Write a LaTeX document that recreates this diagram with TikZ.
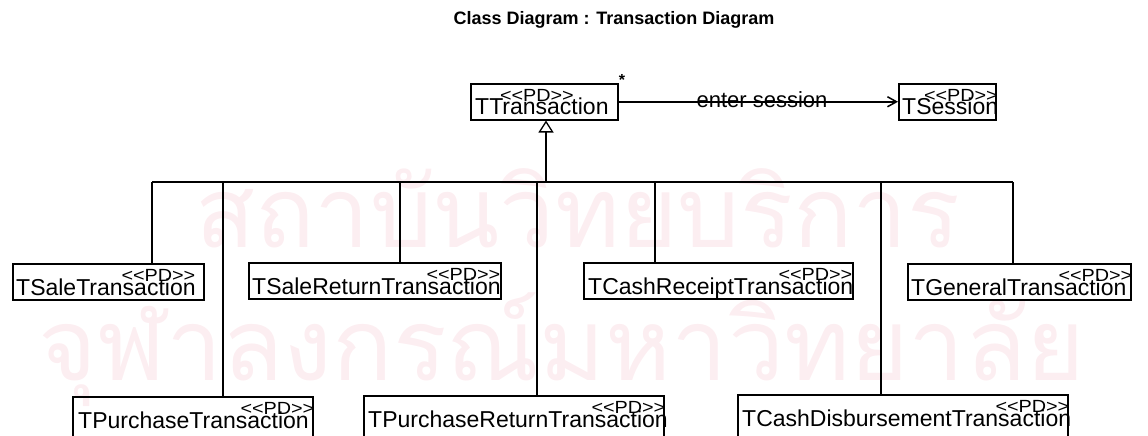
\documentclass[tikz,border=0pt]{standalone}
\usepackage{fontspec}
\setmainfont{Liberation Sans}
\newfontfamily\pdfont{Liberation Sans}
\newfontfamily\thaifont[Script=Thai]{Loma}
\usetikzlibrary{arrows.meta,calc}
\definecolor{wm}{RGB}{252,238,241}
\begin{document}
\begin{tikzpicture}[x=1pt,y=-1pt,
  box/.style={draw, line width=1.5pt, minimum height=36pt, inner sep=0pt, anchor=north west},
  lowbox/.style={box, minimum height=44pt},
  nm/.style={font=\fontsize{23}{23}\selectfont, inner sep=0pt, anchor=base west},
  pd/.style={font=\pdfont\fontsize{22}{22}\selectfont, inner sep=0pt, anchor=base east},
  conn/.style={line width=1.5pt},
  wmtext/.style={text=wm, inner sep=0pt}]
\useasboundingbox (0,0) rectangle (1148,436);
\clip (0,0) rectangle (1148,436);
% watermark
\node[wmtext] (wm1) at (578,208) {\resizebox{765pt}{!}{\thaifont สถาบันวิทยบริการ}};
\node[wmtext] (wm2) at (562,350) {\resizebox{1045pt}{!}{\thaifont จุฬาลงกรณ์มหาวิทยาลัย}};
% title
\node[font=\bfseries\fontsize{18}{18}\selectfont, inner sep=0pt] (title) at (614,20) {Class Diagram : Transaction Diagram};
% top classes
\node[box, minimum width=147pt] (tt) at (470,83) {};
\node[pd] (ttp) at ($(tt.north west)+(104,18)$) {\scalebox{0.9}[0.8]{<<PD>>}};
\node[nm] (ttn) at ($(tt.north west)+(5,31)$) {TTransaction};
\node[box, minimum width=97pt] (ts) at (898,83) {};
\node[pd] (tsp) at ($(ts.north west)+(100,18)$) {\scalebox{0.9}[0.8]{<<PD>>}};
\node[nm] (tsn) at ($(ts.north west)+(4,31)$) {TSession};
\node[font=\bfseries\fontsize{16}{16}\selectfont, inner sep=0pt] (star) at (622,80) {*};
\draw[conn, -{Straight Barb[length=9pt,width=10pt]}] (tt.east) -- (ts.west);
\node[font=\fontsize{22}{22}\selectfont, inner sep=0pt] (lbl) at (762,100) {enter session};
% row 1
\node[box, minimum width=191pt] (c1) at (12,263) {};
\node[pd] (c1p) at ($(c1.north east)+(-9,18)$) {\scalebox{0.9}[0.8]{<<PD>>}};
\node[nm] (c1n) at ($(c1.north west)+(4,32)$) {TSaleTransaction};
\node[box, minimum width=252pt] (c3) at (248,262) {};
\node[pd] (c3p) at ($(c3.north east)+(-1,18)$) {\scalebox{0.9}[0.8]{<<PD>>}};
\node[nm] (c3n) at ($(c3.north west)+(4,32)$) {TSaleReturnTransaction};
\node[box, minimum width=269pt] (c5) at (583,262) {};
\node[pd] (c5p) at ($(c5.north east)+(-1,18)$) {\scalebox{0.9}[0.8]{<<PD>>}};
\node[nm] (c5n) at ($(c5.north west)+(5,32)$) {TCashReceiptTransaction};
\node[box, minimum width=223pt] (c7) at (907,263) {};
\node[pd] (c7p) at ($(c7.north east)+(1,18)$) {\scalebox{0.9}[0.8]{<<PD>>}};
\node[nm] (c7n) at ($(c7.north west)+(4,32)$) {TGeneralTransaction};
% row 2
\node[lowbox, minimum width=240pt] (c2) at (72,396) {};
\node[pd] (c2p) at ($(c2.north east)+(1,18)$) {\scalebox{0.9}[0.8]{<<PD>>}};
\node[nm] (c2n) at ($(c2.north west)+(6,32)$) {TPurchaseTransaction};
\node[lowbox, minimum width=300pt] (c4) at (363,395) {};
\node[pd] (c4p) at ($(c4.north east)+(1,18)$) {\scalebox{0.9}[0.8]{<<PD>>}};
\node[nm] (c4n) at ($(c4.north west)+(5,32)$) {TPurchaseReturnTransaction};
\node[lowbox, minimum width=330pt] (c6) at (737,394) {};
\node[pd] (c6p) at ($(c6.north east)+(1,18)$) {\scalebox{0.9}[0.8]{<<PD>>}};
\node[nm] (c6n) at ($(c6.north west)+(5,32)$) {TCashDisbursementTransaction};
% generalization bus
\coordinate (bm) at (546,182);
\coordinate (b1) at (152,182);
\coordinate (b2) at (223,182);
\coordinate (b3) at (400,182);
\coordinate (b4) at (537,182);
\coordinate (b5) at (655,182);
\coordinate (b6) at (881,182);
\coordinate (b7) at (1013,182);
\draw[conn, -{Triangle[open, length=12pt, width=15pt, line width=1.3pt]}] (bm) -- (bm |- tt.south);
\draw[conn] (b1) -- (b7);
\draw[conn] (b1) -- (b1 |- c1.north);
\draw[conn] (b2) -- (b2 |- c2.north);
\draw[conn] (b3) -- (b3 |- c3.north);
\draw[conn] (b4) -- (b4 |- c4.north);
\draw[conn] (b5) -- (b5 |- c5.north);
\draw[conn] (b6) -- (b6 |- c6.north);
\draw[conn] (b7) -- (b7 |- c7.north);
\end{tikzpicture}
\end{document}
